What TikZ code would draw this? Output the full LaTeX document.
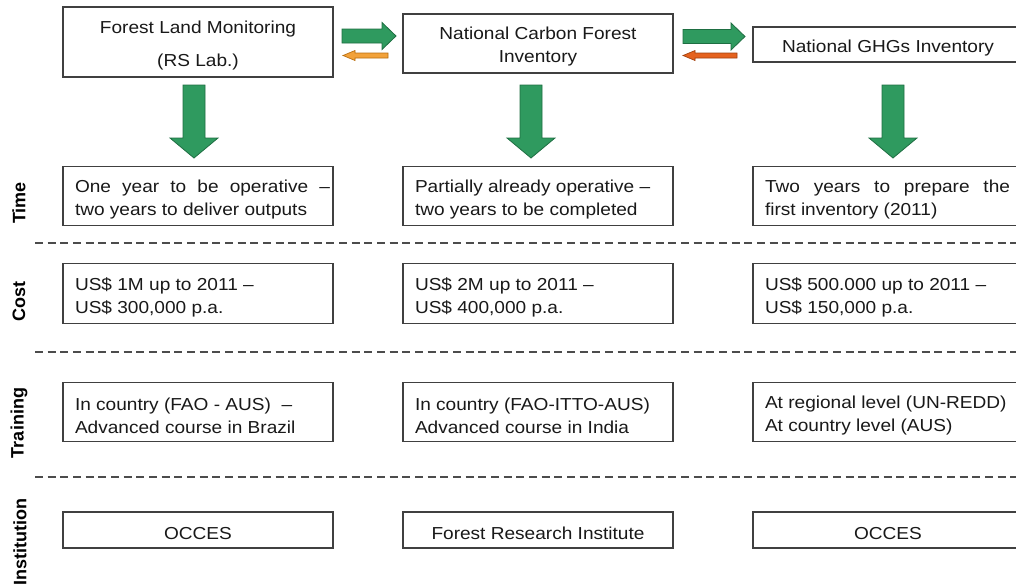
\documentclass[tikz,border=0pt]{standalone}
\usepackage{fontspec}
\setmainfont[FakeStretch=1.1]{Liberation Sans}
\newfontfamily\rowfont{Liberation Sans}
\definecolor{gfill}{HTML}{2F9A5F}
\definecolor{gline}{HTML}{1E6E42}
\definecolor{ofillA}{HTML}{F2A23A}
\definecolor{olineA}{HTML}{B86E10}
\definecolor{ofillB}{HTML}{E5621E}
\definecolor{olineB}{HTML}{A0400E}
% box texts: a fixed-width paragraph, set a little lower than the box centre
\newcommand{\lefttext}[1]{\raisebox{-2.6pt}[\height][\depth]{\parbox{184.5pt}{\raggedright #1}}}
\newcommand{\midtext}[1]{\raisebox{-2.6pt}[\height][\depth]{\parbox{184.5pt}{\centering #1}}}
\newcommand{\spread}[2]{\leavevmode\hbox to #1{#2}}
\begin{document}
\begin{tikzpicture}[x=0.75pt,y=-0.75pt,
  box/.style={draw=black!75, line width=0.9pt, fill=white, inner sep=0pt,
    minimum width=202.5pt, text=black!90,
    font=\fontsize{13}{17.25}\selectfont},
  infobox/.style={box, minimum height=44.5pt},
  instbox/.style={box, minimum height=27pt},
  rowlabel/.style={rotate=90, inner sep=0pt, text=black,
    font=\rowfont\bfseries\fontsize{13.5}{16}\selectfont},
  sep/.style={draw=black!70, line width=0.8pt, dash pattern=on 6pt off 3.5pt},
  bigarrow/.style={fill=gfill, draw=gline, line width=0.6pt},
  backA/.style={fill=ofillA, draw=olineA, line width=0.5pt},
  backB/.style={fill=ofillB, draw=olineB, line width=0.5pt}]
\useasboundingbox (0,0) rectangle (1016,586);

% top row: the three activities
\node[box, minimum height=52.5pt] (flm) at (198,42)
  {\midtext{Forest Land Monitoring\\[7pt](RS Lab.)}};
\node[box, minimum height=44.25pt] (ncfi) at (538,43.5)
  {\midtext{National Carbon Forest\\Inventory}};
\node[box, minimum height=26.25pt] (ghg) at (888,44.5)
  {\midtext{National GHGs Inventory}};

% forward (green) and feedback (orange) arrows between activities
\filldraw[bigarrow] (342,29) -- (382,29) -- (382,22.5) -- (396,36)
  -- (382,49.5) -- (382,43) -- (342,43) -- cycle;
\filldraw[backA] (388,53) -- (355,53) -- (355,50.5) -- (343,55.5)
  -- (355,60.5) -- (355,58) -- (388,58) -- cycle;
\filldraw[bigarrow] (683,29.5) -- (731,29.5) -- (731,23) -- (745,36.5)
  -- (731,50) -- (731,43.5) -- (683,43.5) -- cycle;
\filldraw[backB] (737,53) -- (695,53) -- (695,50.5) -- (683,55.5)
  -- (695,60.5) -- (695,58) -- (737,58) -- cycle;

% downward arrows to the detail rows
\foreach \cx in {194,531,893}
  \filldraw[bigarrow] (\cx-11,85) -- (\cx+11,85) -- (\cx+11,138) -- (\cx+24,138)
    -- (\cx,158) -- (\cx-24,138) -- (\cx-11,138) -- cycle;

% row labels
\node[rowlabel] (lTime) at (19,203) {Time};
\node[rowlabel] (lCost) at (19,301) {Cost};
\node[rowlabel] (lTrain) at (19,423) {Training};
\node[rowlabel] (lInst) at (20,542) {Institution};

% separators
\draw[sep] (35,243) -- (1016,243);
\draw[sep] (35,352) -- (1016,352);
\draw[sep] (35,477) -- (1016,477);

% time
\node[infobox] (t1) at (198,196)
  {\lefttext{\spread{191.25pt}{One\hfill year\hfill to\hfill be\hfill operative\hfill –}\\two years to deliver outputs}};
\node[infobox] (t2) at (538,196)
  {\lefttext{Partially already operative –\\two years to be completed}};
\node[infobox] (t3) at (888,196)
  {\lefttext{\spread{183.75pt}{Two\hfill years\hfill to\hfill prepare\hfill the}\\first inventory (2011)}};

% cost
\node[infobox] (c1) at (198,293.5)
  {\lefttext{US\$ 1M up to 2011 –\\US\$ 300,000 p.a.}};
\node[infobox] (c2) at (538,293.5)
  {\lefttext{US\$ 2M up to 2011 –\\US\$ 400,000 p.a.}};
\node[infobox] (c3) at (888,293.5)
  {\lefttext{US\$ 500.000 up to 2011 –\\US\$ 150,000 p.a.}};

% training
\node[infobox] (r1) at (198,412)
  {\lefttext{In country (FAO - AUS) \ –\\Advanced course in Brazil}};
\node[infobox] (r2) at (538,412)
  {\lefttext{In country (FAO-ITTO-AUS)\\Advanced course in India}};
\node[infobox] (r3) at (888,412)
  {\lefttext{At regional level (UN-REDD)\\At country level (AUS)}};

% institution
\node[instbox] (i1) at (198,530) {\midtext{OCCES}};
\node[instbox] (i2) at (538,530) {\midtext{Forest Research Institute}};
\node[instbox] (i3) at (888,530) {\midtext{OCCES}};
\end{tikzpicture}
\end{document}
